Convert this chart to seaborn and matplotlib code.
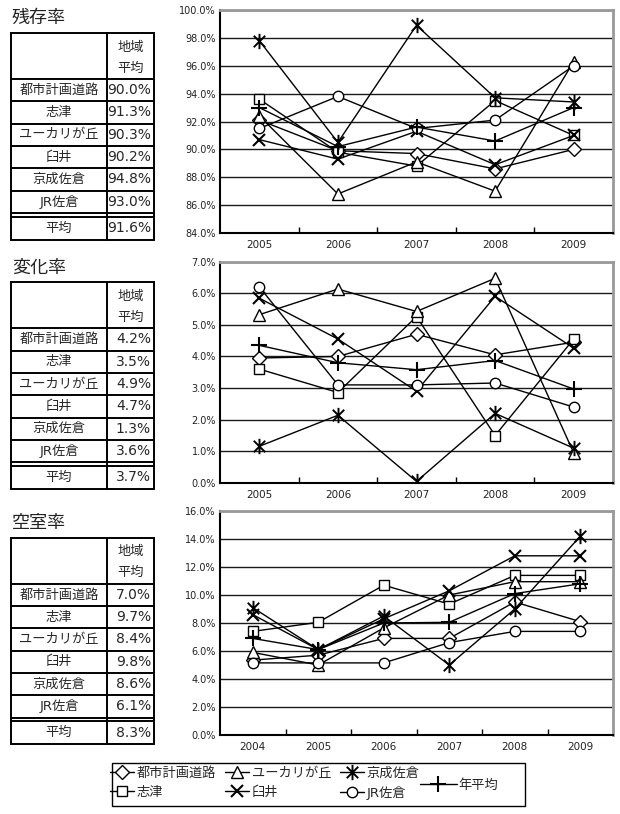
import numpy as np
import matplotlib
matplotlib.use("Agg")
import matplotlib.pyplot as plt
import seaborn as sns
from matplotlib.path import Path
from matplotlib.patches import Rectangle
from matplotlib.ticker import FuncFormatter

# ---------------- data ----------------
series_names = ["都市計画道路", "志津", "ユーカリが丘", "臼井", "京成佐倉", "JR佐倉", "年平均"]
region_names = ["都市計画道路", "志津", "ユーカリが丘", "臼井", "京成佐倉", "JR佐倉"]

years_survival = ["2005", "2006", "2007", "2008", "2009"]
survival_toshi = [92.1, 89.9, 89.7, 88.6, 90.0]
survival_shizu = [93.6, 89.8, 88.8, 93.5, 91.0]
survival_yukari = [92.4, 86.8, 89.1, 87.0, 96.3]
survival_usui = [90.7, 89.3, 91.3, 88.9, 91.0]
survival_keisei = [97.8, 90.5, 98.9, 93.7, 93.4]
survival_jr = [91.5, 93.8, 91.5, 92.1, 96.0]
survival_year_avg = [93.0, 90.2, 91.6, 90.6, 93.0]
survival_region_avg = [90.0, 91.3, 90.3, 90.2, 94.8, 93.0]
survival_total_avg = 91.6

years_change = ["2005", "2006", "2007", "2008", "2009"]
change_toshi = [3.95, 4.0, 4.7, 4.05, 4.45]
change_shizu = [3.6, 2.86, 5.26, 1.5, 4.55]
change_yukari = [5.32, 6.13, 5.42, 6.47, 0.95]
change_usui = [5.84, 4.55, 2.9, 5.9, 4.26]
change_keisei = [1.16, 2.14, 0.05, 2.2, 1.1]
change_jr = [6.2, 3.1, 3.1, 3.16, 2.4]
change_year_avg = [4.35, 3.8, 3.58, 3.87, 2.97]
change_region_avg = [4.2, 3.5, 4.9, 4.7, 1.3, 3.6]
change_total_avg = 3.7

years_vacancy = ["2004", "2005", "2006", "2007", "2008", "2009"]
vacancy_toshi = [5.35, 5.7, 6.9, 6.9, 9.5, 8.1]
vacancy_shizu = [7.4, 8.05, 10.7, 9.35, 11.4, 11.4]
vacancy_yukari = [5.9, 5.0, 7.65, 10.0, 10.95, 10.95]
vacancy_usui = [8.6, 6.1, 8.3, 10.3, 12.8, 12.8]
vacancy_keisei = [9.1, 6.1, 8.5, 5.0, 9.0, 14.2]
vacancy_jr = [5.15, 5.15, 5.15, 6.6, 7.4, 7.4]
vacancy_year_avg = [6.9, 6.1, 8.0, 8.05, 10.1, 10.8]
vacancy_region_avg = [7.0, 9.7, 8.4, 9.8, 8.6, 6.1]
vacancy_total_avg = 8.3

# ---------------- style ----------------
sns.set_theme(style="white")
plt.rcParams["font.family"] = ["DejaVu Sans", "Noto Sans CJK JP"]
plt.rcParams["axes.unicode_minus"] = False

star = Path([(0, -1), (0, 1), (-0.75, -0.75), (0.75, 0.75), (-0.75, 0.75), (0.75, -0.75)],
            [Path.MOVETO, Path.LINETO] * 3)
marker_styles = {
    "都市計画道路": dict(marker="D", markersize=7),
    "志津": dict(marker="s", markersize=7.5),
    "ユーカリが丘": dict(marker="^", markersize=8.5),
    "臼井": dict(marker="x", markersize=8, markeredgewidth=1.5),
    "京成佐倉": dict(marker=star, markersize=11, markeredgewidth=1.4),
    "JR佐倉": dict(marker="o", markersize=7.5),
    "年平均": dict(marker="+", markersize=11, markeredgewidth=1.5),
}

W, H = 620, 814
fig = plt.figure(figsize=(W / 100, H / 100), dpi=100)


def fx(px):
    return px / W


def fy(py):
    return 1 - py / H


# overlay axes in pixel coordinates for the tables
tax = fig.add_axes([0, 0, 1, 1])
tax.set_xlim(0, W)
tax.set_ylim(H, 0)
tax.axis("off")

panels = [
    dict(top=10, bottom=233, years=years_survival,
         data=[survival_toshi, survival_shizu, survival_yukari, survival_usui,
               survival_keisei, survival_jr, survival_year_avg],
         ylim=(84, 100), step=2, title="残存率", ttop=33,
         ravg=survival_region_avg, tavg=survival_total_avg),
    dict(top=261.5, bottom=483, years=years_change,
         data=[change_toshi, change_shizu, change_yukari, change_usui,
               change_keisei, change_jr, change_year_avg],
         ylim=(0, 7), step=1, title="変化率", ttop=282.3,
         ravg=change_region_avg, tavg=change_total_avg),
    dict(top=511, bottom=735, years=years_vacancy,
         data=[vacancy_toshi, vacancy_shizu, vacancy_yukari, vacancy_usui,
               vacancy_keisei, vacancy_jr, vacancy_year_avg],
         ylim=(0, 16), step=2, title="空室率", ttop=537.7,
         ravg=vacancy_region_avg, tavg=vacancy_total_avg),
]

LW_T = 1.4
axes = []
for p in panels:
    ax = fig.add_axes([fx(220), fy(p["bottom"]), fx(613) - fx(220), (p["bottom"] - p["top"]) / H])
    axes.append(ax)
    n = len(p["years"])
    xpos = np.arange(n)
    for name, vals in zip(series_names, p["data"]):
        sns.lineplot(x=xpos, y=vals, ax=ax, color="black", linewidth=1.0,
                     markerfacecolor="white", markeredgecolor="black",
                     label=name, legend=False, zorder=3,
                     **({"markeredgewidth": 1.0} | marker_styles[name]))
    if ax.get_legend() is not None:
        ax.get_legend().remove()
    lo, hi = p["ylim"]
    ax.set_ylim(lo, hi)
    ax.set_yticks(np.arange(lo, hi + p["step"] / 2, p["step"]))
    ax.yaxis.set_major_formatter(FuncFormatter(lambda v, _: f"{v:.1f}%"))
    ax.set_xlim(-0.5, n - 0.5)
    ax.set_xticks(xpos)
    ax.set_xticklabels(p["years"])
    ax.set_xticks(np.arange(0.5, n - 1, 1), minor=True)
    ax.tick_params(axis="x", which="major", length=0, pad=5, labelsize=7.5, labelcolor="#222222")
    ax.tick_params(axis="x", which="minor", bottom=True, direction="in", length=4, width=1, color="black")
    ax.tick_params(axis="y", length=0, pad=3, labelsize=7, labelcolor="#222222")
    ax.set_xlabel("")
    ax.set_ylabel("")
    ax.yaxis.grid(True, color="#1a1a1a", linewidth=1.0)
    ax.xaxis.grid(False)
    ax.set_axisbelow(True)
    for s in ["left", "bottom"]:
        ax.spines[s].set_color("black")
        ax.spines[s].set_linewidth(1.5)
    for s in ["top", "right"]:
        ax.spines[s].set_color("#999999")
        ax.spines[s].set_linewidth(2)
    ax.set_facecolor("white")

    # ---- table ----
    T = p["ttop"]
    xL, xM, xR = 11, 107, 154
    hh, rh = 46, 22.3
    last = T + hh + 6 * rh
    bot = last + 3.7 + 23
    tax.text(12, T - 15, p["title"], fontsize=13, va="center", ha="left",
             family=["Noto Sans CJK JP"], color="#222222")
    tax.plot([xL, xR, xR, xL, xL], [T, T, bot, bot, T], color="black", lw=LW_T, solid_joinstyle="miter")
    tax.plot([xM, xM], [T, bot], color="black", lw=LW_T)
    for i in range(7):
        y = T + hh + i * rh
        tax.plot([xL, xR], [y, y], color="black", lw=LW_T)
    tax.plot([xL, xR], [last + 3.7, last + 3.7], color="black", lw=LW_T)
    cx2 = (xM + xR) / 2
    tax.text(cx2, T + 14, "地域", fontsize=9.5, ha="center", va="center", family=["Noto Sans CJK JP"])
    tax.text(cx2, T + 35, "平均", fontsize=9.5, ha="center", va="center", family=["Noto Sans CJK JP"])
    for i, (rn, rv) in enumerate(zip(region_names, p["ravg"])):
        y = T + hh + (i + 0.5) * rh
        tax.text((xL + xM) / 2, y, rn, fontsize=9.5, ha="center", va="center")
        tax.text(151, y, f"{rv:.1f}%", fontsize=10, ha="right", va="center")
    ya = (last + 3.7 + bot) / 2
    tax.text((xL + xM) / 2, ya, "平均", fontsize=9.5, ha="center", va="center", family=["Noto Sans CJK JP"])
    tax.text(151, ya, f"{p['tavg']:.1f}%", fontsize=10, ha="right", va="center")

# ---------------- legend ----------------
handles, labels = axes[0].get_legend_handles_labels()
hmap = dict(zip(labels, handles))
fig.add_artist(Rectangle((fx(112), fy(806)), (525 - 112) / W, 43 / H, transform=fig.transFigure,
                         fill=False, edgecolor="black", linewidth=1.0))
leg1 = fig.legend([hmap[n] for n in region_names], region_names, ncol=3, loc="upper left",
                  bbox_to_anchor=(fx(110), fy(767)), frameon=False, fontsize=9.5,
                  handlelength=1.8, handletextpad=0.2, columnspacing=0.7, labelspacing=0.45,
                  borderpad=0, borderaxespad=0)
leg2 = fig.legend([hmap["年平均"]], ["年平均"], loc="center left",
                  bbox_to_anchor=(fx(420), fy(785)), frameon=False, fontsize=9.5,
                  handlelength=2.8, handletextpad=0.1, borderpad=0, borderaxespad=0)

fig.savefig("out.png", dpi=100)
